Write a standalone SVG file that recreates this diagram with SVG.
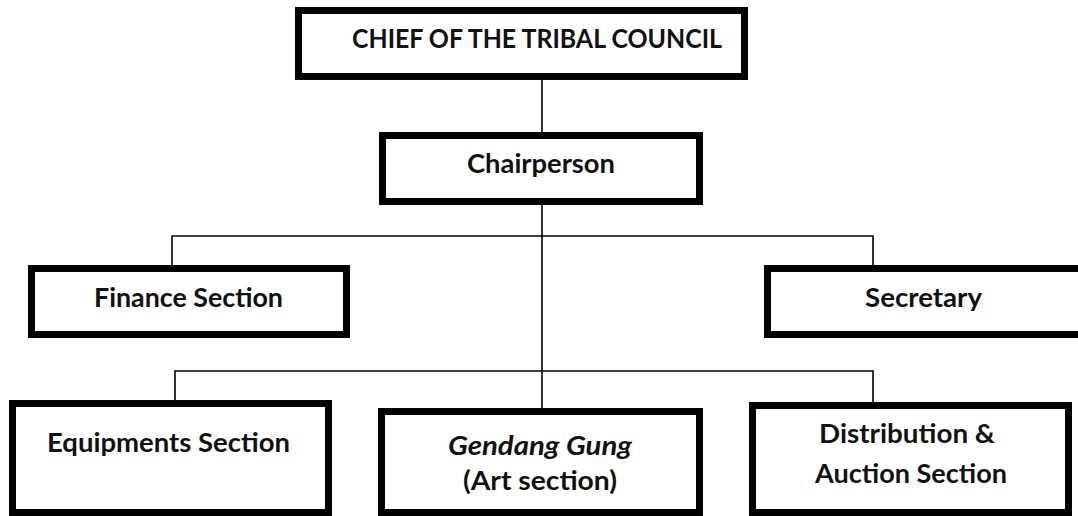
<svg xmlns="http://www.w3.org/2000/svg" width="1078" height="516" viewBox="0 0 1078 516">
  <style>
    .box { fill: #ffffff; stroke: #000000; stroke-width: 7; }
    .lbl { font-family: Lato, "Open Sans", "Liberation Sans", sans-serif; font-weight: 700; font-size: 26px; fill: #111111; text-anchor: middle; }
    .it { font-style: italic; }
    .conn { stroke: #000000; stroke-width: 1.6; fill: none; }
  </style>
  <rect x="0" y="0" width="1078" height="516" fill="#ffffff"/>
  <g id="connectors">
    <line class="conn" x1="542" y1="80" x2="542" y2="132"/>
    <line class="conn" x1="542" y1="205" x2="542" y2="408"/>
    <polyline class="conn" points="172,265 172,236 873,236 873,265"/>
    <polyline class="conn" points="175,400 175,371 873,371 873,402"/>
  </g>
  <g id="chief">
    <rect class="box" x="298.5" y="10.5" width="446" height="66"/>
    <text class="lbl" x="537" y="48" textLength="370" lengthAdjust="spacingAndGlyphs">CHIEF OF THE TRIBAL COUNCIL</text>
  </g>
  <g id="chairperson">
    <rect class="box" x="382.5" y="135.5" width="317" height="66"/>
    <text class="lbl" x="541" y="173" textLength="148" lengthAdjust="spacingAndGlyphs">Chairperson</text>
  </g>
  <g id="finance">
    <rect class="box" x="31.5" y="268.5" width="315" height="66"/>
    <text class="lbl" x="188.5" y="307" textLength="189" lengthAdjust="spacingAndGlyphs">Finance Section</text>
  </g>
  <g id="secretary">
    <rect class="box" x="767.5" y="268.5" width="320" height="66"/>
    <text class="lbl" x="923.5" y="307" textLength="117" lengthAdjust="spacingAndGlyphs">Secretary</text>
  </g>
  <g id="equipments">
    <rect class="box" x="12.5" y="403.5" width="316" height="109"/>
    <text class="lbl" x="168.5" y="452" textLength="243" lengthAdjust="spacingAndGlyphs">Equipments Section</text>
  </g>
  <g id="gendang">
    <rect class="box" x="381.5" y="411.5" width="318" height="101"/>
    <text class="lbl it" x="540" y="455" textLength="184" lengthAdjust="spacingAndGlyphs">Gendang Gung</text>
    <text class="lbl" x="540" y="490" textLength="154" lengthAdjust="spacingAndGlyphs">(Art section)</text>
  </g>
  <g id="distribution">
    <rect class="box" x="752.5" y="405.5" width="316" height="107"/>
    <text class="lbl" x="907" y="443" textLength="176" lengthAdjust="spacingAndGlyphs">Distribution &amp;</text>
    <text class="lbl" x="911" y="483" textLength="192" lengthAdjust="spacingAndGlyphs">Auction Section</text>
  </g>
</svg>
